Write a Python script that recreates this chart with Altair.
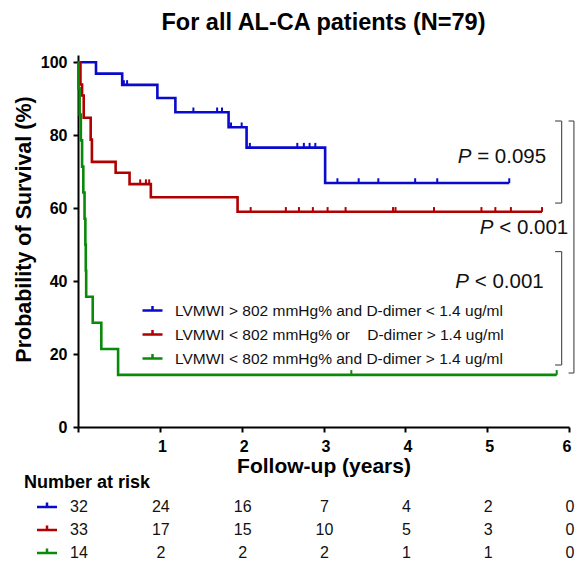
import altair as alt
import pandas as pd

# ---------------- data ----------------
groups = [
    "LVMWI > 802 mmHg% and D-dimer < 1.4 ug/ml",
    "LVMWI < 802 mmHg% or\u00a0\u00a0\u00a0\u00a0D-dimer > 1.4 ug/ml",
    "LVMWI < 802 mmHg% and D-dimer > 1.4 ug/ml",
]
colors = ["#0A0ACC", "#B00000", "#0A8A0A"]

blue_event_t = [0.22, 0.54, 0.97, 1.19, 1.84, 2.06, 3.02]
blue_event_s = [96.9, 93.8, 90.2, 86.3, 82.2, 76.6, 66.9]
blue_censor_t = [0.56, 0.60, 1.41, 1.70, 1.76, 1.87, 2.00, 2.10, 2.68, 2.76, 2.83,
                 2.90, 3.17, 3.43, 3.67, 4.12, 4.39, 5.27]
blue_end = 5.27

red_event_t = [0.03, 0.05, 0.07, 0.155, 0.17, 0.46, 0.63, 0.89, 1.95]
red_event_s = [93.9, 90.9, 84.8, 78.8, 72.7, 69.7, 66.6, 63.0, 59.0]
red_censor_t = [0.76, 0.83, 0.87, 2.11, 2.54, 2.70, 2.87, 3.05, 3.27, 3.85, 3.88,
                4.35, 4.93, 5.10, 5.29, 5.67]
red_end = 5.67

green_event_t = [0.005, 0.02, 0.035, 0.05, 0.065, 0.08, 0.09, 0.095, 0.10, 0.18, 0.285, 0.49]
green_event_s = [92.9, 85.7, 78.6, 71.4, 64.3, 57.1, 50.0, 42.9, 35.7, 28.6, 21.4, 14.3]
green_censor_t = [3.34, 5.85]
green_end = 5.85

risk_times = [0, 1, 2, 3, 4, 5, 6]
risk_blue = [32, 24, 16, 7, 4, 2, 0]
risk_red = [33, 17, 15, 10, 5, 3, 0]
risk_green = [14, 2, 2, 2, 1, 1, 0]

p_texts = ["= 0.095", "< 0.001", "< 0.001"]
p_x = [4.64, 4.91, 4.61]
p_y = [74.0, 54.6, 39.8]

# brackets (x, y_top, y_bottom)
br_x = [5.91, 5.91, 6.06]
br_top = [83.9, 48.1, 83.9]
br_bot = [61.4, 17.0, 14.8]

# ---------------- tables ----------------
series = [
    (groups[0], blue_event_t, blue_event_s, blue_censor_t, blue_end),
    (groups[1], red_event_t, red_event_s, red_censor_t, red_end),
    (groups[2], green_event_t, green_event_s, green_censor_t, green_end),
]

line_rows, cens_rows = [], []
for g, et, es, ct, end in series:
    pts = [(0.0, 100.0)] + list(zip(et, es)) + [(end, es[-1])]
    for i, (t, s) in enumerate(pts):
        line_rows.append({"group": g, "t": t, "s": s, "i": i})
    for t in ct:
        s = 100.0
        for tt, ss in zip(et, es):
            if tt <= t:
                s = ss
        cens_rows.append({"group": g, "t": t, "s": s})

lines_df = pd.DataFrame(line_rows)
cens_df = pd.DataFrame(cens_rows)

FONT = "Liberation Sans"
color_scale = alt.Scale(domain=groups, range=colors)
legend = alt.Legend(
    title=None, orient="none", legendX=63, legendY=244,
    symbolType="M-1,0H1M0,0V-0.45", symbolSize=400, symbolStrokeWidth=2.5,
    labelFontSize=15.5, labelFont=FONT, labelColor="#111", labelOffset=11,
    rowPadding=4, padding=0, labelLimit=600,
)

xenc = alt.X("t:Q", scale=alt.Scale(domain=[0, 6], nice=False),
             axis=alt.Axis(values=[0, 1, 2, 3, 4, 5, 6], format="d",
                           labelExpr="datum.value == 0 ? '' : datum.label",
                           labelOffset=2,
                           title="Follow-up (years)", titlePadding=1, labelPadding=6))
yenc = alt.Y("s:Q", scale=alt.Scale(domain=[0, 102], nice=False),
             axis=alt.Axis(values=[0, 20, 40, 60, 80, 100], format="d",
                           title="Probability of Survival (%)", titlePadding=5,
                           titleFontSize=21.5, titleY=174, labelPadding=6))

lines = alt.Chart(lines_df).mark_line(interpolate="step-after", strokeWidth=2.6).encode(
    x=xenc, y=yenc,
    color=alt.Color("group:N", scale=color_scale, legend=legend),
    order="i:Q",
)

censors = alt.Chart(cens_df).mark_point(
    shape="M0,0V-1", filled=False, strokeWidth=2, size=90, opacity=1
).encode(
    x="t:Q", y="s:Q",
    color=alt.Color("group:N", scale=color_scale, legend=legend),
)

p_df = pd.DataFrame({"txt": p_texts, "px": p_x, "py": p_y})
p_italic = alt.Chart(p_df).mark_text(
    text="P", font=FONT, fontSize=20.5, fontStyle="italic", align="left",
    baseline="middle", color="#111"
).encode(x="px:Q", y="py:Q")
p_rest = alt.Chart(p_df).mark_text(
    font=FONT, fontSize=20.5, align="left", baseline="middle", color="#111", dx=19.5
).encode(x="px:Q", y="py:Q", text="txt:N")

br_df = pd.DataFrame({"bx": br_x, "top": br_top, "bot": br_bot})
br_df["bx0"] = br_df["bx"] - [0.08, 0.08, 0.065]
br_v = alt.Chart(br_df).mark_rule(color="#555", strokeWidth=1.2).encode(
    x="bx:Q", y="top:Q", y2="bot:Q")
br_t = alt.Chart(br_df).mark_rule(color="#555", strokeWidth=1.2).encode(
    x="bx0:Q", x2="bx:Q", y="top:Q")
br_b = alt.Chart(br_df).mark_rule(color="#555", strokeWidth=1.2).encode(
    x="bx0:Q", x2="bx:Q", y="bot:Q")

# risk table
header = alt.Chart(pd.DataFrame({"h": ["Number at risk"]})).mark_text(
    font=FONT, fontSize=18, fontWeight="bold", align="left", baseline="middle",
    color="#000"
).encode(x=alt.value(-54), y=alt.value(428), text="h:N")

risk_layers = []
row_y = [452, 475, 498]
for g, col, counts, ry in zip(groups, colors, [risk_blue, risk_red, risk_green], row_y):
    df = pd.DataFrame({"t": risk_times, "n": counts, "group": g})
    risk_layers.append(
        alt.Chart(df).mark_text(font=FONT, fontSize=16, align="center",
                                baseline="middle", color="#111", dx=1)
        .encode(x="t:Q", y=alt.value(ry), text="n:Q")
    )
    sym = pd.DataFrame({"group": [g]})
    risk_layers.append(
        alt.Chart(sym).mark_point(shape="M-1,0H1M0,0V-0.45", filled=False,
                                  strokeWidth=2.5, size=400, opacity=1, color=col)
        .encode(x=alt.value(-31), y=alt.value(ry))
    )

chart = alt.layer(
    lines, censors, p_italic, p_rest, br_v, br_t, br_b, header, *risk_layers
).properties(
    width=491, height=372,
    padding={"left": 70, "top": 47, "right": 6, "bottom": 138},
    autosize=alt.AutoSizeParams(type="none"),
    title=alt.TitleParams("For all AL-CA patients (N=79)", fontSize=23.5, font=FONT,
                          fontWeight="bold", anchor="middle", frame="group",
                          baseline="alphabetic", offset=1, color="#000"),
).configure_view(stroke=None).configure_axis(
    grid=False, domainColor="#000", domainWidth=2, tickColor="#000", tickWidth=2,
    tickSize=5, labelFont=FONT, labelFontSize=16, labelFontWeight="bold",
    labelColor="#000", titleFont=FONT, titleFontSize=21, titleFontWeight="bold",
    titleColor="#000",
)

chart.save("out.html", embed_options={"renderer": "svg", "actions": False})
